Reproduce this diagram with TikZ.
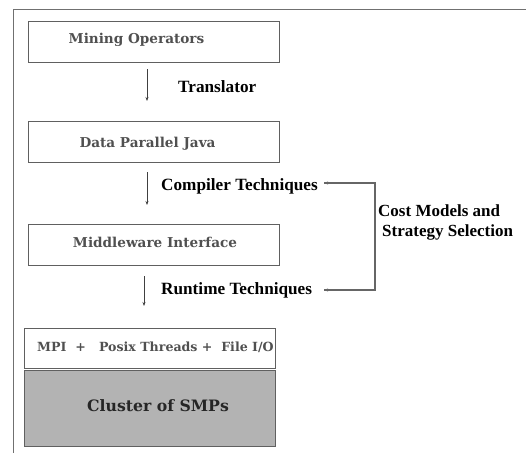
\documentclass[tikz,border=0pt]{standalone}
\usepackage{fontspec}
\setmainfont{Liberation Serif}
\newfontfamily\boxfont{DejaVu Serif}
\usetikzlibrary{arrows.meta}
\definecolor{frame}{HTML}{707070}
\definecolor{boxline}{HTML}{606060}
\definecolor{boxtext}{HTML}{505050}
\definecolor{clusterfill}{HTML}{B3B3B3}
\tikzset{
  layer/.style={draw=boxline, line width=1pt, minimum width=251pt, minimum height=41pt, inner sep=0pt},
  boxlabel/.style={font=\boxfont\bfseries\fontsize{13.6}{15}\selectfont, text=boxtext, inner sep=0pt},
  steplabel/.style={font=\bfseries\fontsize{17.2}{19}\selectfont, anchor=west, inner sep=0pt},
  flow/.style={draw=black!75, line width=0.6pt, -{Stealth[length=4pt,width=3pt]}},
  loopline/.style={draw=black!60, line width=1.3pt},
  looptip/.style={-{Stealth[length=4pt,width=3pt]}}
}
\begin{document}
\begin{tikzpicture}[x=1pt,y=-1pt]
\useasboundingbox (0,0) rectangle (526,453);
% frame
\draw[frame, line width=1pt] (526,9) -- (13,9) -- (13,453);
% boxes
\node[layer] (mo) at (153.5,41.5) {};
\node[boxlabel] (mot) at (136.5,40) {Mining Operators};
\node[layer] (dpj) at (153.5,141.5) {};
\node[boxlabel] (dpjt) at (147.5,144) {Data Parallel Java};
\node[layer] (mw) at (153.5,245) {};
\node[boxlabel] (mwt) at (155,242) {Middleware Interface};
\node[layer, minimum height=40pt] (mpi) at (149.5,348) {};
\node[boxlabel, anchor=west, font=\boxfont\bfseries\fontsize{12.6}{15}\selectfont] (mpit) at (37,347) {MPI\ \ +\ \ \ Posix Threads +\ \ File I/O};
\node[layer, fill=clusterfill, minimum height=76pt] (cl) at (149.5,408) {};
\node[boxlabel, text=black!85, font=\boxfont\bfseries\fontsize{15.7}{18}\selectfont] (clt) at (158,406) {Cluster of SMPs};
% flow arrows
\coordinate (a1s) at (147,69); \coordinate (a1e) at (147,101);
\draw[flow] (a1s) -- (a1e);
\node[steplabel] (tr) at (178,87) {Translator};
\coordinate (a2s) at (147,172); \coordinate (a2e) at (147,205);
\draw[flow] (a2s) -- (a2e);
\node[steplabel] (ct) at (161,186) {Compiler Techniques};
\coordinate (a3s) at (144,276); \coordinate (a3e) at (144,306);
\draw[flow] (a3s) -- (a3e);
\node[steplabel] (rt) at (161,290) {Runtime Techniques};
% bracket
\coordinate (bt) at (375,183);
\coordinate (bb) at (375,290);
\coordinate (ctend) at (324,183);
\coordinate (rtend) at (324,290);
\draw[loopline] (ctend) -- (bt) -- (bb) -- (rtend);
\draw[loopline, looptip, line width=0.8pt] (330,183) -- (ctend);
\draw[loopline, looptip, line width=0.8pt] (330,290) -- (rtend);
\node[font=\bfseries\fontsize{17}{21}\selectfont, align=left, anchor=west, inner sep=0pt] (cm) at (378,222.5) {Cost Models and\\[-0.5pt]\hspace*{4pt}Strategy Selection};
\end{tikzpicture}
\end{document}
